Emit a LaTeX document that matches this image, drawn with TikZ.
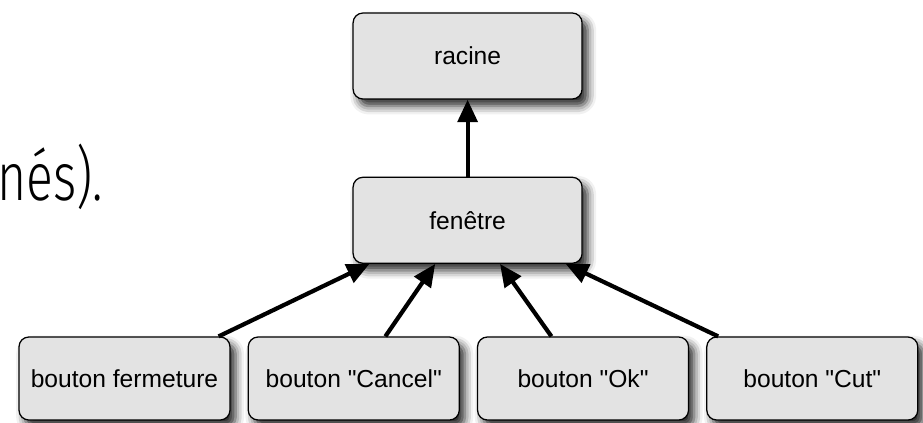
\documentclass[tikz,border=0pt]{standalone}
\usepackage{fontspec}
\setmainfont{Liberation Sans}
\newfontfamily\slidefont{Fira Sans Light}
\usetikzlibrary{arrows.meta,positioning,calc,shadows.blur}
\definecolor{boxfill}{HTML}{E3E3E3}

\begin{document}
\begin{tikzpicture}[
  >={Triangle[length=16pt,width=14pt]},
  font=\fontsize{17.5}{21}\selectfont,
  elem/.style={draw, line width=0.9pt, rounded corners=7pt, fill=boxfill, minimum width=5.725cm, minimum height=2.15cm,
    blur shadow={shadow xshift=4pt, shadow yshift=-5pt, shadow blur radius=6pt, shadow opacity=85}},
  leaf/.style={elem, minimum width=5.275cm, minimum height=2.075cm},
  link/.style={->, line width=3pt}
]
\useasboundingbox (0,0) rectangle (23.075,-10.55);

% fragment of the slide text
\node[anchor=base east, inner sep=0pt, font=\slidefont\fontsize{48}{56}\selectfont] (frag) at (2.575,-5.0) {\scalebox{0.74}[1]{nés).}};

\node[elem] (root) at (11.69,-1.4) {racine};
\node[elem, below=1.925cm of root] (win) {fenêtre};

\node[leaf] (close) at (3.1125,-9.4625) {bouton fermeture};
\node[leaf, right=0.425cm of close] (cancel) {bouton \textquotedbl Cancel\textquotedbl};
\node[leaf, right=0.425cm of cancel] (ok) {bouton \textquotedbl Ok\textquotedbl};
\node[leaf, right=0.425cm of ok] (cut) {bouton \textquotedbl Cut\textquotedbl};

\draw[link] (win.north) -- (root.south);

\draw[link] ($(close.north east)+(-0.3,0)$) -- ($(win.south west)+(0.425,0)$);
\draw[link] ($(cancel.north)+(0.79,0)$) -- ($(win.south)+(-0.81,0)$);
\draw[link] ($(ok.north)+(-0.79,0)$) -- ($(win.south)+(0.81,0)$);
\draw[link] ($(cut.north west)+(0.3,0)$) -- ($(win.south east)+(-0.425,0)$);

\end{tikzpicture}
\end{document}
